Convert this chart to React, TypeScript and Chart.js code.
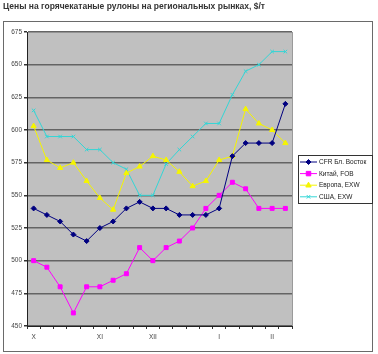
import React, { useEffect, useRef } from "react";
import { Chart, registerables } from "chart.js";

Chart.register(...registerables);

const categories = ["X", "", "", "", "", "XI", "", "", "", "XII", "", "", "", "", "I", "", "", "", "II", ""];
const cfrValues = [540, 535, 530, 520, 515, 525, 530, 540, 545, 540, 540, 535, 535, 535, 540, 580, 590, 590, 590, 620];
const chinaValues = [500, 495, 480, 460, 480, 480, 485, 490, 510, 500, 510, 515, 525, 540, 550, 560, 555, 540, 540, 540];
const europeValues = [603, 577, 571, 575, 561, 548, 539, 567, 572, 580, 577, 568, 557, 561, 577, 580, 616, 605, 600, 590];
const usaValues = [615, 595, 595, 595, 585, 585, 575, 570, 550, 550, 574, 585, 595, 605, 605, 627, 645, 650, 660, 660];
const seriesNames = ["CFR Бл. Восток", "Китай, FOB", "Европа, EXW", "США, EXW"];
const yTicks = [450, 475, 500, 525, 550, 575, 600, 625, 650, 675];
const title = "Цены на горячекатаные рулоны на региональных рынках, $/т";

const FONT = "'Liberation Sans', Arial, sans-serif";

export default function App() {
  const ref = useRef<HTMLCanvasElement | null>(null);

  useEffect(() => {
    const canvas = ref.current;
    if (!canvas) return;

    function drawPoint(ctx: CanvasRenderingContext2D, style: string, r: number, x: number, y: number) {
      ctx.beginPath();
      switch (style) {
        case "rectRot":
          ctx.moveTo(x, y - r);
          ctx.lineTo(x + r, y);
          ctx.lineTo(x, y + r);
          ctx.lineTo(x - r, y);
          ctx.closePath();
          ctx.fill();
          ctx.stroke();
          break;
        case "rect":
          ctx.rect(x - r * 0.8, y - r * 0.8, r * 1.6, r * 1.6);
          ctx.fill();
          ctx.stroke();
          break;
        case "triangle":
          ctx.moveTo(x, y - r);
          ctx.lineTo(x + r * 0.9, y + r * 0.6);
          ctx.lineTo(x - r * 0.9, y + r * 0.6);
          ctx.closePath();
          ctx.fill();
          ctx.stroke();
          break;
        default:
          ctx.moveTo(x - r * 0.7, y - r * 0.7);
          ctx.lineTo(x + r * 0.7, y + r * 0.7);
          ctx.moveTo(x + r * 0.7, y - r * 0.7);
          ctx.lineTo(x - r * 0.7, y + r * 0.7);
          ctx.stroke();
      }
    }

    const framePlugin = {
      id: "framePlugin",
      beforeDraw(chart: any) {
        const { ctx, chartArea } = chart;
        ctx.save();
        ctx.fillStyle = "#ffffff";
        ctx.fillRect(0, 0, chart.width, chart.height);
        ctx.strokeStyle = "#6a6a6a";
        ctx.lineWidth = 1;
        ctx.strokeRect(3.5, 21.5, 369, 330);
        ctx.fillStyle = "#c0c0c0";
        ctx.fillRect(chartArea.left, chartArea.top, chartArea.right - chartArea.left, chartArea.bottom - chartArea.top);
        ctx.restore();
      },
      afterDatasetsDraw(chart: any) {
        const { ctx, chartArea } = chart;
        ctx.save();
        ctx.strokeStyle = "#9a9a9a";
        ctx.lineWidth = 1;
        ctx.beginPath();
        ctx.moveTo(chartArea.right + 0.5, chartArea.top);
        ctx.lineTo(chartArea.right + 0.5, chartArea.bottom);
        ctx.stroke();
        ctx.restore();
      },
      afterDraw(chart: any) {
        const { ctx } = chart;
        const x0 = 298, y0 = 155, w = 74, h = 48;
        ctx.save();
        ctx.fillStyle = "#ffffff";
        ctx.fillRect(x0, y0, w, h);
        ctx.strokeStyle = "#333333";
        ctx.lineWidth = 1;
        ctx.strokeRect(x0 + 0.5, y0 + 0.5, w, h);
        ctx.font = `6.5px ${FONT}`;
        ctx.textBaseline = "middle";
        chart.data.datasets.forEach((ds: any, i: number) => {
          const y = 162 + i * 11.6;
          ctx.strokeStyle = ds.borderColor;
          ctx.lineWidth = 1;
          ctx.beginPath();
          ctx.moveTo(300, y);
          ctx.lineTo(317, y);
          ctx.stroke();
          ctx.fillStyle = ds.pointBackgroundColor;
          ctx.strokeStyle = ds.pointBorderColor;
          drawPoint(ctx, ds.pointStyle, ds.pointRadius, 308.5, y);
          ctx.fillStyle = "#222222";
          ctx.fillText(ds.label, 319, y + 0.5);
        });
        ctx.restore();
      },
    };

    const mk = (label: string, data: number[], color: string, style: string, radius: number) => ({
      label,
      data,
      borderColor: color,
      backgroundColor: color,
      pointBackgroundColor: color,
      pointBorderColor: color,
      pointStyle: style,
      pointRadius: radius,
      pointBorderWidth: 1,
      borderWidth: 1,
      tension: 0,
    });

    const chart = new Chart(canvas, {
      type: "line",
      data: {
        labels: categories,
        datasets: [
          mk(seriesNames[0], cfrValues, "#000080", "rectRot", 2.5),
          mk(seriesNames[1], chinaValues, "#ff00ff", "rect", 2.8),
          mk(seriesNames[2], europeValues, "#f5f500", "triangle", 3),
          mk(seriesNames[3], usaValues, "#33d6d6", "crossRot", 2.5),
        ] as any,
      },
      options: {
        responsive: false,
        animation: false,
        layout: { padding: { left: 3, top: 0, right: 86, bottom: 0 } },
        plugins: {
          legend: { display: false },
          tooltip: { enabled: false },
          title: {
            display: true,
            text: title,
            align: "start",
            color: "#333333",
            font: { family: FONT, size: 8.5, weight: "bold", lineHeight: 1.2 },
            padding: { top: 2, bottom: 19.8 },
          },
        },
        scales: {
          x: {
            type: "category",
            offset: true,
            afterFit: (scale: any) => {
              scale.height = 28;
            },
            grid: {
              offset: true,
              drawOnChartArea: false,
              drawTicks: true,
              tickLength: 3,
              color: "#333333",
            },
            border: { display: true, color: "#222222", width: 1 },
            ticks: {
              autoSkip: false,
              maxRotation: 0,
              padding: 4,
              color: "#444444",
              font: { family: FONT, size: 6.5 },
            },
          },
          y: {
            min: 450,
            max: 675,
            afterFit: (scale: any) => {
              scale.width = 24;
            },
            afterBuildTicks: (scale: any) => {
              scale.ticks = yTicks.map((v) => ({ value: v }));
            },
            grid: {
              color: "#646464",
              lineWidth: 1.5,
              tickLength: 3,
              drawTicks: true,
              tickColor: "#333333",
            } as any,
            border: { display: true, color: "#222222", width: 1 },
            ticks: {
              padding: 2,
              color: "#444444",
              font: { family: FONT, size: 6.5 },
            },
          },
        },
      } as any,
      plugins: [framePlugin],
    });

    return () => chart.destroy();
  }, []);

  return (
    <div style={{ position: "absolute", left: 0, top: 0, width: 378, height: 354 }}>
      <canvas ref={ref} width={378} height={354} style={{ width: 378, height: 354 }} />
    </div>
  );
}
